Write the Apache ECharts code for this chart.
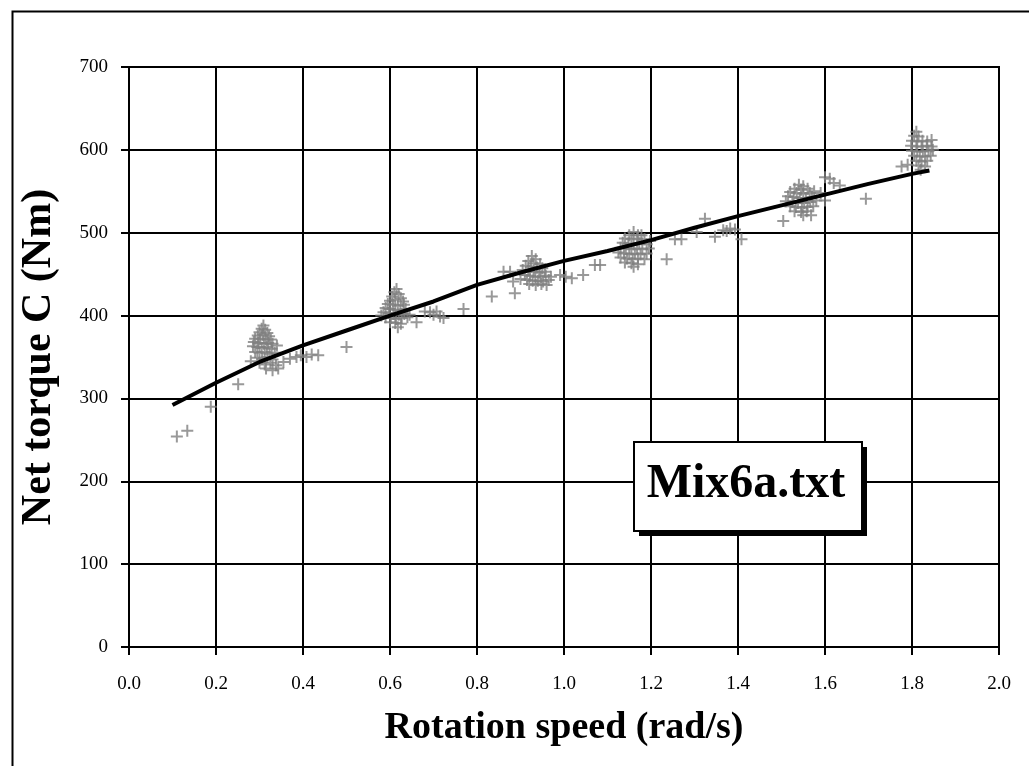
<!DOCTYPE html>
<html>
<head>
<meta charset="utf-8">
<script src="https://cdn.jsdelivr.net/npm/echarts@6/dist/echarts.min.js"></script>
<style>
html,body{margin:0;padding:0;background:#fff;}
#chart{width:1029px;height:766px;}
</style>
</head>
<body>
<div id="chart"></div>
<script>
// ---- Data ----
var xTicks = [0.0, 0.2, 0.4, 0.6, 0.8, 1.0, 1.2, 1.4, 1.6, 1.8, 2.0];
var yTicks = [0, 100, 200, 300, 400, 500, 600, 700];

var isolatedLow = [[0.11,254],[0.134,261],[0.188,290],[0.251,317]];

var cluster03 = [[0.309,388],[0.305,384],[0.313,383],[0.300,380],[0.318,379],[0.296,376],[0.308,377],[0.322,375],
  [0.290,372],[0.302,372],[0.314,371],[0.326,371],[0.287,368],[0.298,367],[0.31,366],[0.32,367],[0.33,366],
  [0.285,363],[0.295,362],[0.305,361],[0.317,362],[0.328,360],[0.29,356],[0.30,355],[0.312,356],[0.323,354],
  [0.335,355],[0.295,349],[0.306,348],[0.318,350],[0.33,347],[0.30,343],[0.312,341],[0.325,343],[0.338,340],
  [0.315,336],[0.33,334],[0.343,336],[0.34,364],[0.28,345]];
var trail03 = [[0.355,344],[0.37,348],[0.385,350],[0.395,352],[0.408,350],[0.42,353],[0.435,352],[0.50,362]];

var cluster06 = [[0.615,432],[0.61,428],[0.62,426],[0.605,423],[0.625,421],[0.60,418],[0.612,419],[0.63,417],
  [0.595,414],[0.607,413],[0.618,412],[0.632,413],[0.59,409],[0.60,408],[0.612,407],[0.624,406],[0.636,408],
  [0.585,404],[0.597,403],[0.608,402],[0.62,401],[0.633,402],[0.59,398],[0.602,397],[0.614,396],[0.627,397],
  [0.64,398],[0.60,392],[0.612,391],[0.625,390],[0.618,386],[0.58,400]];
var trail06 = [[0.645,401],[0.661,392],[0.68,405],[0.692,404],[0.70,401],[0.707,405],[0.715,399],[0.723,397],
  [0.769,408],[0.834,423],[0.861,453],[0.876,453],[0.883,441],[0.887,427]];

var cluster09 = [[0.926,472],[0.935,468],[0.918,466],[0.93,463],[0.945,462],[0.912,460],[0.924,459],[0.938,458],
  [0.95,457],[0.905,455],[0.918,454],[0.93,453],[0.943,452],[0.956,453],[0.91,449],[0.922,448],[0.934,447],
  [0.946,447],[0.958,448],[0.915,443],[0.928,442],[0.94,442],[0.952,441],[0.965,443],[0.92,438],[0.935,437],
  [0.948,438],[0.97,447],[0.90,444],[0.96,437]];
var trail09 = [[0.991,449],[1.004,447],[1.018,445],[1.044,449],[1.071,461],[1.083,461]];

var cluster12 = [[1.16,501],[1.15,497],[1.17,497],[1.178,497],[1.14,493],[1.155,492],[1.168,493],[1.185,492],
  [1.135,488],[1.148,487],[1.16,486],[1.173,487],[1.19,486],[1.13,482],[1.142,481],[1.155,480],[1.168,481],
  [1.18,480],[1.195,481],[1.125,476],[1.138,475],[1.15,474],[1.163,475],[1.176,474],[1.19,475],[1.13,470],
  [1.145,469],[1.158,468],[1.17,469],[1.185,468],[1.14,464],[1.155,463],[1.17,462],[1.16,459],[1.198,490]];
var trail12 = [[1.236,468],[1.255,492],[1.27,492],[1.305,501],[1.324,517],[1.347,495],[1.366,503],[1.374,502],
  [1.382,505],[1.393,504],[1.408,492]];

var cluster15 = [[1.54,558],[1.55,556],[1.53,553],[1.545,552],[1.56,553],[1.52,549],[1.535,548],[1.55,547],
  [1.565,548],[1.575,550],[1.515,544],[1.528,543],[1.542,542],[1.556,542],[1.57,543],[1.51,538],[1.525,537],
  [1.538,536],[1.552,536],[1.566,537],[1.58,539],[1.52,532],[1.533,531],[1.547,530],[1.56,531],[1.573,532],
  [1.53,526],[1.545,525],[1.558,526],[1.568,521],[1.55,521]];
var trail15 = [[1.504,514],[1.6,567],[1.611,565],[1.62,560],[1.634,557],[1.6,539],[1.59,548],[1.694,541]];

var cluster18 = [[1.81,622],[1.805,617],[1.815,616],[1.80,611],[1.812,610],[1.824,611],[1.835,610],[1.798,605],
  [1.81,604],[1.822,604],[1.834,605],[1.845,604],[1.80,599],[1.812,598],[1.825,598],[1.838,599],[1.848,600],
  [1.805,593],[1.818,592],[1.83,592],[1.843,593],[1.81,587],[1.822,586],[1.835,587],[1.815,581],[1.83,580],
  [1.776,580],[1.79,582],[1.82,576],[1.845,612]];

// model curve
var modelSpeed  = [0.10, 0.20, 0.30, 0.40, 0.50, 0.60, 0.70, 0.80, 0.90, 1.00, 1.10, 1.20, 1.30, 1.40, 1.50, 1.60, 1.70, 1.80, 1.84];
var modelTorque = [292, 319, 344, 364, 382, 400, 417, 437, 452, 466, 478, 491, 506, 520, 533, 546, 559, 571, 575];

var boxLabel = 'Mix6a.txt';
var xTitle = 'Rotation speed (rad/s)';
var yTitle = 'Net torque C (Nm)';

// ---- Build ----
var measured = [].concat(isolatedLow, cluster03, trail03, cluster06, trail06, cluster09, trail09,
                         cluster12, trail12, cluster15, trail15, cluster18);
var model = modelSpeed.map(function(s, i){ return [s, modelTorque[i]]; });

var FONT = '"Liberation Serif","Times New Roman",serif';
var chart = echarts.init(document.getElementById('chart'));
var plusPath = 'path://M5,0h2v5h5v2h-5v5h-2v-5h-5v-2h5z';

chart.setOption({
  animation: false,
  backgroundColor: '#ffffff',
  grid: { left: 129, right: 30, top: 67, bottom: 119, show: true, borderColor: '#000', borderWidth: 2, backgroundColor: 'transparent' },
  xAxis: {
    type: 'value', min: xTicks[0], max: xTicks[xTicks.length-1], interval: 0.2,
    name: xTitle, nameLocation: 'middle', nameGap: 62,
    nameTextStyle: { fontFamily: FONT, fontWeight: 'bold', fontSize: 38, color: '#000' },
    axisLine: { show: true, onZero: false, lineStyle: { color: '#000', width: 2 } },
    axisTick: { show: true, inside: false, length: 8, lineStyle: { color: '#000', width: 2 } },
    axisLabel: { margin: 28, fontFamily: FONT, fontSize: 19, color: '#000', formatter: function(v){ return v.toFixed(1); } },
    splitLine: { show: true, lineStyle: { color: '#000', width: 2 } }
  },
  yAxis: {
    type: 'value', min: yTicks[0], max: yTicks[yTicks.length-1], interval: 100,
    name: yTitle, nameLocation: 'middle', nameGap: 69,
    nameTextStyle: { fontFamily: FONT, fontWeight: 'bold', fontSize: 42, color: '#000' },
    axisLine: { show: true, lineStyle: { color: '#000', width: 2 } },
    axisTick: { show: true, inside: false, length: 8, lineStyle: { color: '#000', width: 2 } },
    axisLabel: { margin: 21, fontFamily: FONT, fontSize: 19, color: '#000' },
    splitLine: { show: true, lineStyle: { color: '#000', width: 2 } }
  },
  series: [
    { type: 'scatter', data: measured, symbol: plusPath, symbolSize: 12,
      itemStyle: { color: '#808080' }, z: 2, silent: true },
    { type: 'line', data: model, showSymbol: false, symbol: 'none', smooth: false,
      lineStyle: { color: '#000', width: 4 }, z: 3, silent: true }
  ],
  graphic: [
    { type: 'rect', left: 10, top: 9, shape: { width: 1100, height: 900 },
      style: { fill: 'none', stroke: '#000', lineWidth: 2 }, z: 0, silent: true },
    { type: 'rect', left: 639, top: 447, shape: { width: 228, height: 89 },
      style: { fill: '#000' }, z: 10 },
    { type: 'rect', left: 633, top: 441, shape: { width: 228, height: 89 },
      style: { fill: '#fff', stroke: '#000', lineWidth: 2 }, z: 11 },
    { type: 'text', x: 746, y: 485,
      style: { text: boxLabel, fontFamily: FONT, fontWeight: 'bold', fontSize: 48, fill: '#000',
               align: 'center', verticalAlign: 'middle' }, z: 12 }
  ]
});
</script>
</body>
</html>
